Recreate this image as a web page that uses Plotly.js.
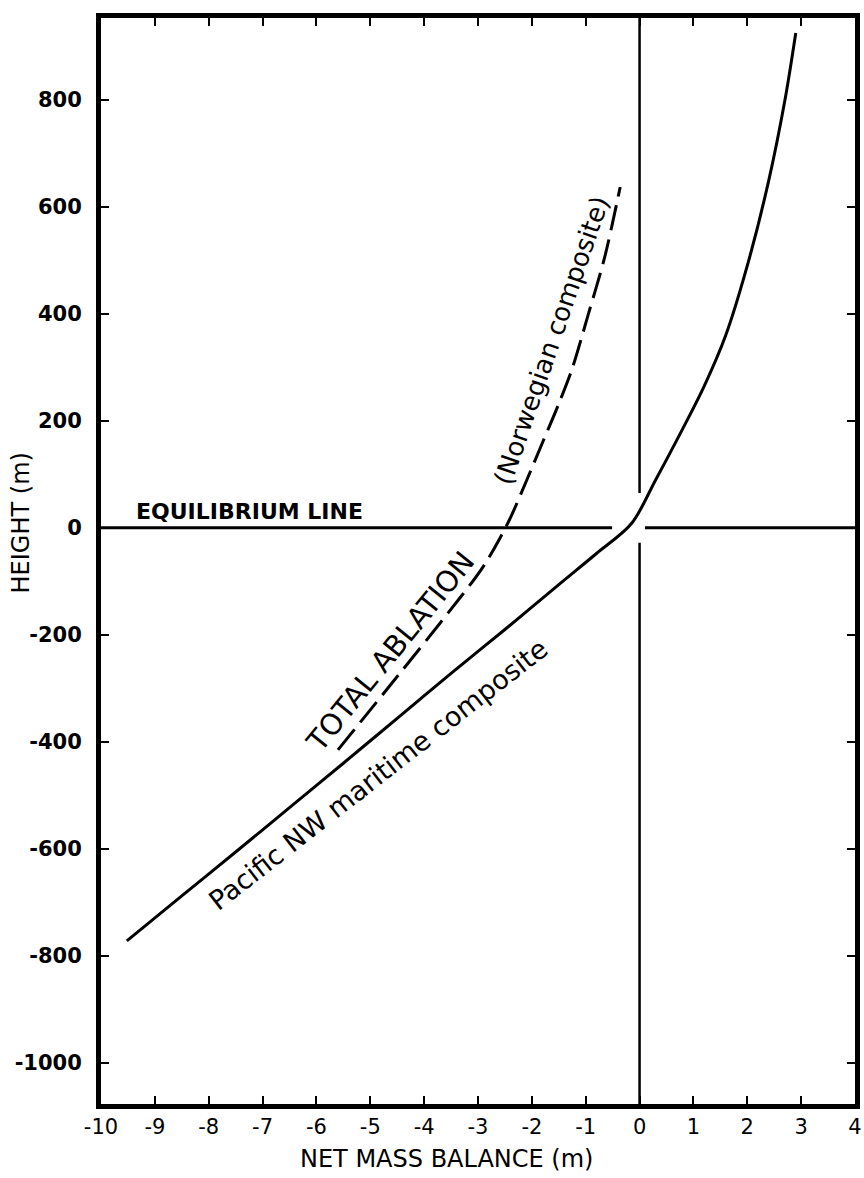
<!DOCTYPE html>
<html>
<head>
<meta charset="utf-8">
<script src="https://cdn.plot.ly/plotly-3.0.1.min.js"></script>
<style>html,body{margin:0;padding:0;background:#fff;}#chart{width:864px;height:1178px;}</style>
</head>
<body>
<div id="chart"></div>
<script>
// Pacific NW maritime composite (solid curve): net mass balance (m) vs height (m)
const pacificX = [-9.52, -8.5, -7.5, -6.5, -5.5, -4.5, -3.5, -2.5, -1.5, -0.8, -0.15, 0.3, 0.8, 1.2, 1.6, 2.0, 2.4, 2.7, 2.9];
const pacificH = [-772, -688, -606, -523, -440, -356, -272, -190, -106, -48, 8, 90, 185, 265, 360, 490, 650, 800, 925];

// Norwegian composite, total ablation (dashed curve)
const norwayX = [-5.6, -4.5, -3.5, -2.9, -2.45, -2.1, -1.8, -1.5, -1.25, -0.95, -0.65, -0.36];
const norwayH = [-415, -278, -152, -72, 8, 88, 160, 232, 298, 400, 505, 637];

// Equilibrium line (height 0) with a gap around the origin
const equilX = [-10, -0.51, null, 0.10, 4];
const equilH = [0, 0, null, 0, 0];

// Zero mass-balance line (x = 0) with a gap around the origin
const zeroX = [0, 0, null, 0, 0];
const zeroH = [953, 65, null, -28, -1077];

// Axes
const xRange = [-10, 4];
const yRange = [-1077, 953];
const xTicks = [-10, -9, -8, -7, -6, -5, -4, -3, -2, -1, 0, 1, 2, 3, 4];
const xTickText = ["-10", "-9", "-8", "-7", "-6", "-5", "-4", "-3", "-2", "-1", "0", "1", "2", "3", "4"];
const yTicks = [-1000, -800, -600, -400, -200, 0, 200, 400, 600, 800];
const yTickText = ["-1000", "-800", "-600", "-400", "-200", "0", "200", "400", "600", "800"];

const FONT = "DejaVu Sans, Liberation Sans, sans-serif";

const traces = [
  {x: equilX, y: equilH, mode: "lines", line: {color: "#000", width: 3}, hoverinfo: "skip", showlegend: false},
  {x: zeroX, y: zeroH, mode: "lines", line: {color: "#000", width: 2.5}, hoverinfo: "skip", showlegend: false},
  {x: pacificX, y: pacificH, mode: "lines", name: "Pacific NW maritime composite",
   line: {color: "#000", width: 3, shape: "spline", smoothing: 0.9}, showlegend: false},
  {x: norwayX, y: norwayH, mode: "lines", name: "Norwegian composite",
   line: {color: "#000", width: 3, shape: "spline", smoothing: 0.9, dash: "26px,9px"}, showlegend: false}
];

const layout = {
  width: 864, height: 1178,
  margin: {l: 101, r: 9, t: 18, b: 74},
  paper_bgcolor: "#fff", plot_bgcolor: "#fff",
  showlegend: false,
  font: {family: FONT, color: "#000"},
  xaxis: {
    range: xRange, tickvals: xTicks, ticktext: xTickText,
    ticks: "inside", ticklen: 8, tickwidth: 2, tickcolor: "#000",
    showline: true, linewidth: 5, linecolor: "#000", mirror: "ticks",
    showgrid: false, zeroline: false, ticklabelstandoff: 0,
    tickfont: {family: FONT, size: 21, color: "#000"}
  },
  yaxis: {
    range: yRange, tickvals: yTicks, ticktext: yTickText,
    ticks: "inside", ticklen: 8, tickwidth: 2, tickcolor: "#000",
    showline: true, linewidth: 5, linecolor: "#000", mirror: "ticks",
    showgrid: false, zeroline: false, ticklabelstandoff: 10,
    tickfont: {family: FONT, size: 21, color: "#000", weight: "bold"}
  },
  annotations: [
    {text: "EQUILIBRIUM LINE", x: -7.25, y: 30, xref: "x", yref: "y", showarrow: false,
     xanchor: "center", yanchor: "middle", font: {family: FONT, size: 22, weight: "bold", color: "#000"}},
    {text: "TOTAL ABLATION", x: -4.63, y: -232, xref: "x", yref: "y", showarrow: false,
     textangle: -51, font: {family: FONT, size: 29, color: "#000"}},
    {text: "(Norwegian composite)", x: -1.63, y: 351, xref: "x", yref: "y", showarrow: false,
     textangle: -71, font: {family: FONT, size: 26, color: "#000"}},
    {text: "Pacific NW maritime composite", x: -4.85, y: -462, xref: "x", yref: "y", showarrow: false,
     textangle: -38, font: {family: FONT, size: 27, color: "#000"}},
    {text: "NET MASS BALANCE (m)", x: 0.458, y: -0.051, xref: "paper", yref: "paper", showarrow: false,
     xanchor: "center", yanchor: "middle", font: {family: FONT, size: 24, color: "#000"}},
    {text: "HEIGHT (m)", x: -0.1055, y: 0.535, xref: "paper", yref: "paper", showarrow: false,
     textangle: -90, xanchor: "center", yanchor: "middle", font: {family: FONT, size: 24, color: "#000"}}
  ]
};

Plotly.newPlot("chart", traces, layout, {displayModeBar: false, staticPlot: true});
</script>
</body>
</html>
